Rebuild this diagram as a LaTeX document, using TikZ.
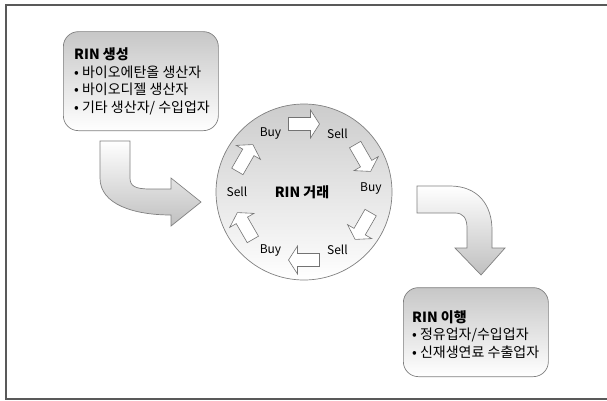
\documentclass[tikz,border=0pt]{standalone}
\usepackage{fontspec}
\setmainfont{Noto Sans CJK KR}
\usetikzlibrary{calc}
\begin{document}
\begin{tikzpicture}[x=1pt,y=1pt,
  outl/.style={draw=black!50, line width=0.7pt},
  boxst/.style={outl, rounded corners=15pt, top color=black!22, bottom color=white, shading angle=0},
  bigarrow/.style={outl, top color=white, bottom color=black!25},
  smallarrow/.style={draw=black!55, line width=0.6pt, fill=white},
  txt/.style={font=\fontsize{14}{17.5}\selectfont, align=left, inner sep=0pt},
  lbl/.style={font=\fontsize{12}{13}\selectfont, inner sep=0pt}
]
\useasboundingbox (0,0) rectangle (607,400);
% frame
\draw[black!65, line width=1.4pt] (607,395) -- (6,395) -- (6,1) -- (607,1);

% box 1
\node[boxst, minimum width=155pt, minimum height=99pt, anchor=south west] (b1) at (63,269) {};
\node[txt, anchor=west] (t1) at ([xshift=11pt]b1.west) {\textbf{RIN 생성}\\• 바이오에탄올 생산자\\• 바이오디젤 생산자\\• 기타 생산자/ 수입업자};

% box 2
\node[boxst, minimum width=145pt, minimum height=89pt, anchor=south west] (b2) at (403,23) {};
\node[txt, anchor=west] (t2) at ([xshift=9pt,yshift=-2pt]b2.west) {\textbf{RIN 이행}\\• 정유업자/수입업자\\• 신재생연료 수출업자};

% circle
\node[circle, outl, minimum size=176pt, top color=black!20, bottom color=white] (c) at (304,208) {};
\node[font=\fontsize{14}{16}\selectfont\bfseries, inner sep=0pt] (ct) at (302,208) {RIN 거래};

% big arrows
\path[bigarrow] (100,259) -- (130,259) -- (130,222) .. controls (130,214) and (135,211) .. (150,211) -- (171,211) -- (171,222) -- (201,198) -- (171,174) -- (171,185) .. controls (135,185) and (100,195) .. (100,222) -- cycle;
\path[bigarrow] (417,214) -- (450,214) .. controls (478,214) and (492,195) .. (492,170) -- (492,152) -- (505,152) -- (481,125) -- (455,152) -- (467,152) -- (467,172) .. controls (467,182) and (463,187) .. (455,187) -- (417,187) -- cycle;

% small arrows
\foreach \i/\t in {1/90,2/30,3/-30,4/-90,5/-150,6/150}{
  \coordinate (a\i) at ($(c.center)+(\t:68)$);
  \begin{scope}[shift={(a\i)}, rotate=\t-90]
    \path[smallarrow] (-15.5,-6.5) -- (6.5,-6.5) -- (6.5,-14) -- (15.5,0) -- (6.5,14) -- (6.5,6.5) -- (-15.5,6.5) -- cycle;
  \end{scope}
}
% labels
\foreach \i/\t/\s in {1/120/Buy,2/60/Sell,3/3/Buy,4/-60/Sell,5/-120/Buy,6/180/Sell}{
  \node[lbl] (l\i) at ($(c.center)+(\t:67)$) {\s};
}
\end{tikzpicture}
\end{document}
